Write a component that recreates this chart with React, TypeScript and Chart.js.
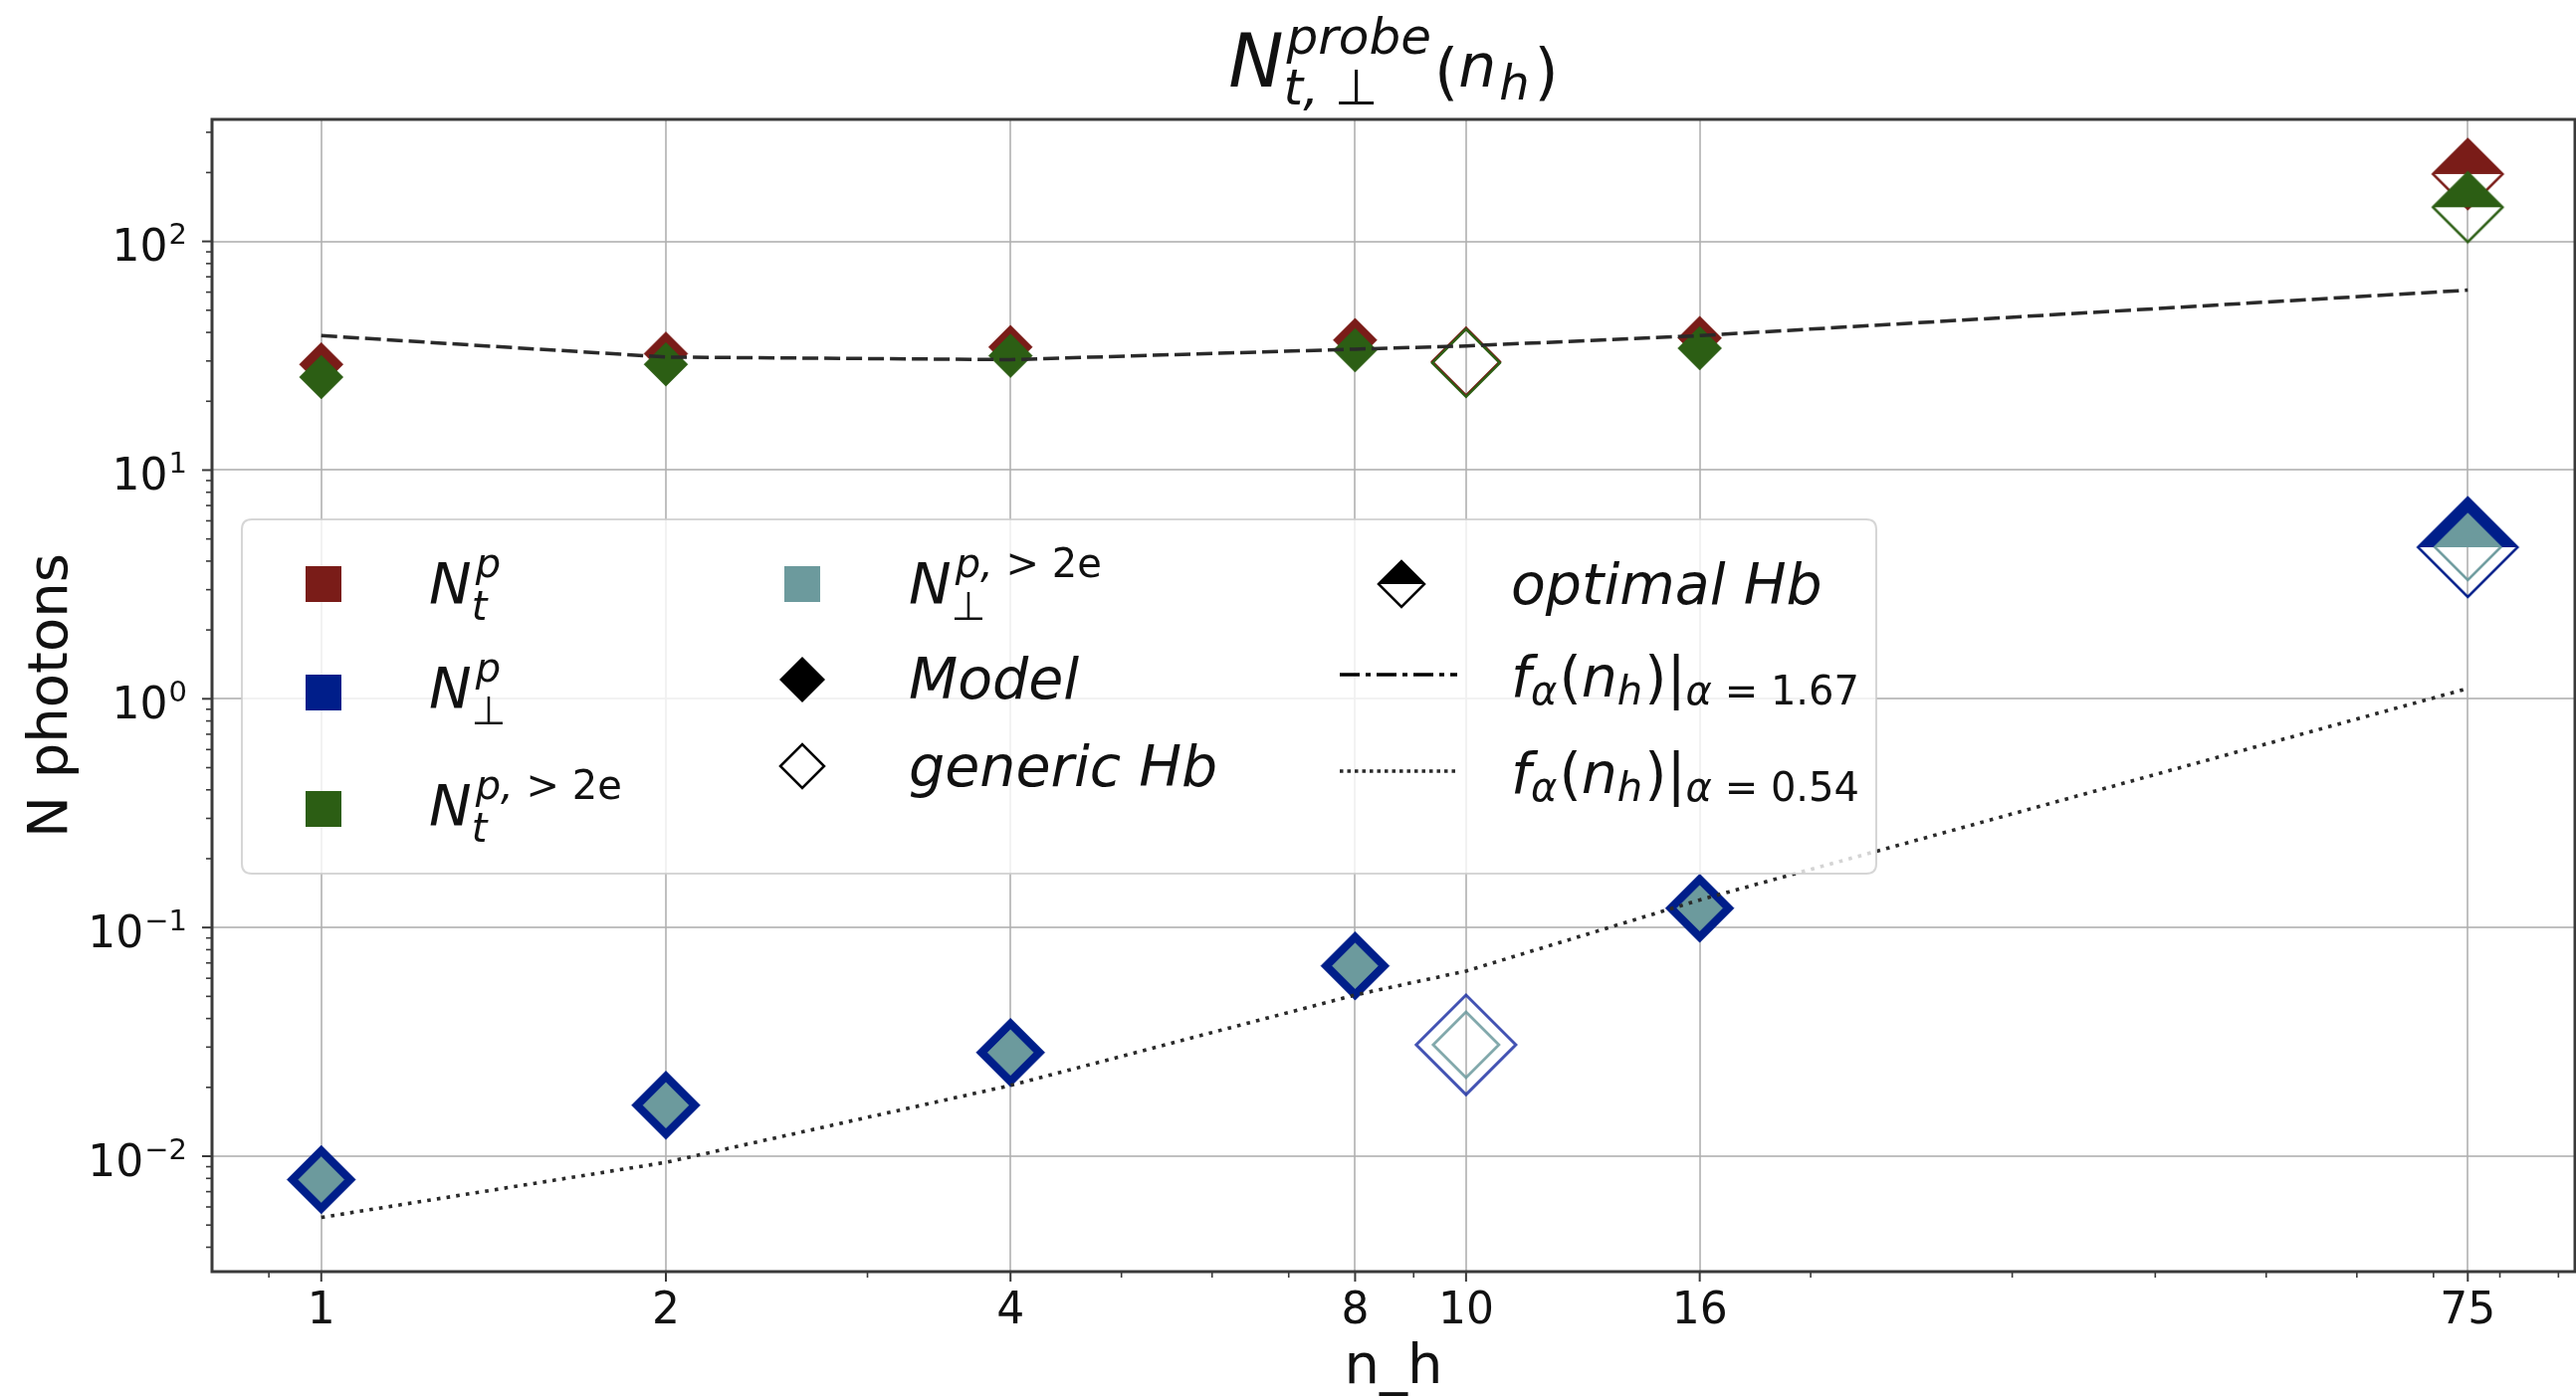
import React, { useEffect, useRef } from 'react';
import { Chart, registerables } from 'chart.js';

Chart.register(...registerables);

const W = 2588;
const H = 1404;
const FONT = "'DejaVu Sans'";

// ---------- data ----------
const modelX = [1, 2, 4, 8, 16];
const modelNt = [29.0, 32.3, 34.5, 37.0, 37.8];
const modelNt2e = [25.5, 29.0, 31.6, 33.4, 34.1];
const modelNperp = [0.0079, 0.0167, 0.0284, 0.068, 0.1215];
const modelNperp2e = [0.0079, 0.0167, 0.0284, 0.068, 0.1215];

const genericX = [10];
const genericNt = [29.8];
const genericNt2e = [29.4];
const genericNperp = [0.0307];
const genericNperp2e = [0.0307];

const optimalX = [75];
const optimalNt = [197];
const optimalNt2e = [141];
const optimalNperp = [4.6];
const optimalNperp2e = [4.6];

const fitX = [1, 2, 4, 8, 10, 16, 75];
const fitAlpha167 = [38.7, 31.2, 30.4, 33.8, 34.9, 38.7, 61.2];
const fitAlpha054 = [0.0054, 0.0094, 0.0204, 0.0507, 0.0645, 0.132, 1.11];

const xTicks = [1, 2, 4, 8, 10, 16, 75];
const xTickLabels = ['1', '2', '4', '8', '10', '16', '75'];
const xMinorTicks = [0.9, 3, 5, 6, 7, 9, 20, 30, 40, 50, 60, 70, 80, 90];
const yTickExponents = [-2, -1, 0, 1, 2];
const yMinorMantissas = [2, 3, 4, 5, 6, 7, 8, 9];

const X_MIN = 0.8027;
const X_MAX = 93.05;
const Y_MIN = 0.003129;
const Y_MAX = 341.5;

// ---------- colours ----------
const RED = '#7a1c18';
const BLUE = '#001e8a';
const GREEN = '#2c5e14';
const TEAL = '#6c9a9d';
const BLUE_EDGE = 'rgba(20,40,160,0.8)';
const TEAL_EDGE = 'rgba(108,154,157,0.85)';
const LINE = '#2a2a2a';
const GRID = 'rgba(176,176,176,0.8)';
const SPINE = '#3a3a3a';
const TXT = '#111111';

// ---------- rich text helpers ----------
type Run = { t: string; s: number; i?: boolean; dy?: number; dx?: number };
type Item = Run | { stack: Run[][] };

const fontOf = (r: Run) => `${r.i ? 'italic ' : ''}${r.s}px ${FONT}`;

function measureItems(ctx: CanvasRenderingContext2D, items: Item[]): number {
  let w = 0;
  for (const it of items) {
    if ('stack' in it) {
      w += Math.max(...it.stack.map((rs) => measureItems(ctx, rs)));
    } else {
      ctx.font = fontOf(it);
      w += (it.dx || 0) + ctx.measureText(it.t).width;
    }
  }
  return w;
}

function drawItems(ctx: CanvasRenderingContext2D, items: Item[], x: number, y: number): number {
  for (const it of items) {
    if ('stack' in it) {
      let mw = 0;
      for (const rs of it.stack) {
        const end = drawItems(ctx, rs, x, y);
        mw = Math.max(mw, end - x);
      }
      x += mw;
    } else {
      x += it.dx || 0;
      ctx.font = fontOf(it);
      ctx.fillText(it.t, x, y + (it.dy || 0));
      x += ctx.measureText(it.t).width;
    }
  }
  return x;
}

// ---------- marker helpers ----------
function diamondPath(g: CanvasRenderingContext2D, cx: number, cy: number, r: number) {
  g.beginPath();
  g.moveTo(cx - r, cy);
  g.lineTo(cx, cy - r);
  g.lineTo(cx + r, cy);
  g.lineTo(cx, cy + r);
  g.closePath();
}

function halfDiamond(g: CanvasRenderingContext2D, cx: number, cy: number, r: number, color: string, lw: number) {
  g.beginPath();
  g.moveTo(cx - r, cy);
  g.lineTo(cx, cy - r);
  g.lineTo(cx + r, cy);
  g.closePath();
  g.fillStyle = color;
  g.fill();
  diamondPath(g, cx, cy, r);
  g.strokeStyle = color;
  g.lineWidth = lw;
  g.lineJoin = 'miter';
  g.stroke();
}

function halfDiamondCanvas(r: number, color: string, lw: number): HTMLCanvasElement {
  const c = document.createElement('canvas');
  const size = 2 * Math.ceil(r + lw + 2);
  c.width = size;
  c.height = size;
  const g = c.getContext('2d')!;
  halfDiamond(g, size / 2, size / 2, r, color, lw);
  return c;
}

const pts = (xs: number[], ys: number[]) => xs.map((x, i) => ({ x, y: ys[i] }));

// ---------- decoration plugin ----------
const decorPlugin = {
  id: 'decor',
  afterDraw(chart: any) {
    const ctx: CanvasRenderingContext2D = chart.ctx;
    const { left, right, top, bottom } = chart.chartArea;
    const xs = chart.scales.x;
    const ys = chart.scales.y;
    ctx.save();

    // frame
    ctx.strokeStyle = SPINE;
    ctx.lineWidth = 3;
    ctx.strokeRect(left, top, right - left, bottom - top);

    // x ticks
    ctx.lineWidth = 2;
    xTicks.forEach((v) => {
      const px = xs.getPixelForValue(v);
      ctx.beginPath();
      ctx.moveTo(px, bottom);
      ctx.lineTo(px, bottom + 10);
      ctx.stroke();
    });
    ctx.lineWidth = 1.6;
    xMinorTicks.forEach((v) => {
      const px = xs.getPixelForValue(v);
      ctx.beginPath();
      ctx.moveTo(px, bottom);
      ctx.lineTo(px, bottom + 6);
      ctx.stroke();
    });
    // y ticks
    ctx.lineWidth = 2;
    yTickExponents.forEach((e) => {
      const py = ys.getPixelForValue(Math.pow(10, e));
      ctx.beginPath();
      ctx.moveTo(left - 10, py);
      ctx.lineTo(left, py);
      ctx.stroke();
    });
    ctx.lineWidth = 1.6;
    for (let e = -3; e <= 2; e++) {
      yMinorMantissas.forEach((m) => {
        const v = m * Math.pow(10, e);
        if (v < Y_MIN || v > Y_MAX) return;
        const py = ys.getPixelForValue(v);
        ctx.beginPath();
        ctx.moveTo(left - 6, py);
        ctx.lineTo(left, py);
        ctx.stroke();
      });
    }

    // tick labels
    ctx.fillStyle = TXT;
    ctx.textBaseline = 'alphabetic';
    ctx.textAlign = 'center';
    ctx.font = `44px ${FONT}`;
    xTicks.forEach((v, i) => {
      ctx.fillText(xTickLabels[i], xs.getPixelForValue(v), bottom + 52);
    });
    ctx.textAlign = 'left';
    yTickExponents.forEach((e) => {
      const py = ys.getPixelForValue(Math.pow(10, e));
      const items: Item[] = [
        { t: '10', s: 44 },
        { t: e < 0 ? '\u2212' + Math.abs(e) : String(e), s: 29, dy: -17, dx: 1 },
      ];
      const w = measureItems(ctx, items);
      drawItems(ctx, items, 188 - w, py + 19.5);
    });

    // axis labels
    ctx.font = `56px ${FONT}`;
    ctx.textAlign = 'center';
    ctx.fillText('n_h', (left + right) / 2, 1390);
    ctx.save();
    ctx.translate(67, (top + bottom) / 2);
    ctx.rotate(-Math.PI / 2);
    ctx.fillText('N photons', 0, 0);
    ctx.restore();
    ctx.textAlign = 'left';

    // title
    const title: Item[] = [
      { t: 'N', s: 74, i: true },
      {
        stack: [
          [{ t: 'probe', s: 50, i: true, dy: -33, dx: 3 }],
          [
            { t: 't, ', s: 50, i: true, dy: 18 },
            { t: '\u22A5', s: 50, dy: 18 },
          ],
        ],
      },
      { t: '(', s: 62, dy: 6, dx: 3 },
      { t: 'n', s: 60, i: true },
      { t: 'h', s: 48, i: true, dy: 13, dx: 3 },
      { t: ')', s: 62, dy: 6, dx: 5 },
    ];
    const tw = measureItems(ctx, title);
    drawItems(ctx, title, (left + right) / 2 - tw / 2, 87);

    // legend box
    const lx = 243, ly = 522, lw = 1885 - 243, lh = 878 - 522, rr = 10;
    ctx.beginPath();
    ctx.moveTo(lx + rr, ly);
    ctx.lineTo(lx + lw - rr, ly);
    ctx.quadraticCurveTo(lx + lw, ly, lx + lw, ly + rr);
    ctx.lineTo(lx + lw, ly + lh - rr);
    ctx.quadraticCurveTo(lx + lw, ly + lh, lx + lw - rr, ly + lh);
    ctx.lineTo(lx + rr, ly + lh);
    ctx.quadraticCurveTo(lx, ly + lh, lx, ly + lh - rr);
    ctx.lineTo(lx, ly + rr);
    ctx.quadraticCurveTo(lx, ly, lx + rr, ly);
    ctx.closePath();
    ctx.fillStyle = 'rgba(255,255,255,0.8)';
    ctx.fill();
    ctx.strokeStyle = 'rgba(204,204,204,0.8)';
    ctx.lineWidth = 2;
    ctx.stroke();

    // legend markers
    const sq = (cx: number, cy: number, c: string) => {
      ctx.fillStyle = c;
      ctx.fillRect(cx - 18, cy - 18, 36, 36);
    };
    sq(325, 587, RED);
    sq(325, 696, BLUE);
    sq(325, 813, GREEN);
    sq(806, 587, TEAL);
    diamondPath(ctx, 806, 683, 23);
    ctx.fillStyle = '#000';
    ctx.fill();
    diamondPath(ctx, 806, 770, 22);
    ctx.fillStyle = '#fff';
    ctx.fill();
    ctx.strokeStyle = '#000';
    ctx.lineWidth = 2.5;
    ctx.stroke();
    ctx.fillStyle = '#fff';
    diamondPath(ctx, 1408, 587, 23);
    ctx.fill();
    halfDiamond(ctx, 1408, 587, 23, '#000', 2.5);

    ctx.strokeStyle = '#000';
    ctx.lineWidth = 3.5;
    ctx.setLineDash([20, 6, 5, 6]);
    ctx.beginPath();
    ctx.moveTo(1346, 678);
    ctx.lineTo(1464, 678);
    ctx.stroke();
    ctx.strokeStyle = LINE;
    ctx.lineWidth = 3.5;
    ctx.setLineDash([3.5, 4]);
    ctx.beginPath();
    ctx.moveTo(1346, 775);
    ctx.lineTo(1464, 775);
    ctx.stroke();
    ctx.setLineDash([]);

    // legend texts
    ctx.fillStyle = TXT;
    const F = 57, S = 40, UP = -27, DN = 16;
    const nItems = (sup: Run[], sub: Run[]): Item[] => [
      { t: 'N', s: F, i: true },
      { stack: [sup, sub] },
    ];
    const supP: Run[] = [{ t: 'p', s: S, i: true, dy: UP, dx: 4 }];
    const supP2e: Run[] = [
      { t: 'p, ', s: S, i: true, dy: UP, dx: 4 },
      { t: '> 2', s: S, dy: UP },
      { t: 'e', s: S, dy: UP },
    ];
    const subT: Run[] = [{ t: 't', s: S, i: true, dy: DN }];
    const subPerp: Run[] = [{ t: '\u22A5', s: S, dy: DN }];
    drawItems(ctx, nItems(supP, subT), 431, 607);
    drawItems(ctx, nItems(supP, subPerp), 431, 712);
    drawItems(ctx, nItems(supP2e, subT), 431, 830);
    drawItems(ctx, nItems(supP2e, subPerp), 913, 607);
    drawItems(ctx, [{ t: 'Model', s: F, i: true }], 913, 702);
    drawItems(ctx, [{ t: 'generic Hb', s: F, i: true }], 913, 790);
    drawItems(ctx, [{ t: 'optimal Hb', s: F, i: true }], 1518, 607);
    const fItems = (a: string): Item[] => [
      { t: 'f', s: F, i: true },
      { t: '\u03B1', s: S, i: true, dy: 8 },
      { t: '(', s: F, dx: 2 },
      { t: 'n', s: F, i: true },
      { t: 'h', s: S, i: true, dy: 8 },
      { t: ')', s: F, dx: 2 },
      { t: '|', s: F },
      { t: '\u03B1', s: S, i: true, dy: 8 },
      { t: ' = ' + a, s: S, dy: 8 },
    ];
    drawItems(ctx, fItems('1.67'), 1518, 700);
    drawItems(ctx, fItems('0.54'), 1518, 797);

    ctx.restore();
  },
};

export default function App() {
  const ref = useRef<HTMLCanvasElement | null>(null);

  useEffect(() => {
    if (!ref.current) return;
    const optRed = halfDiamondCanvas(35, RED, 2.5);
    const optGreen = halfDiamondCanvas(35, GREEN, 2.5);
    const optBlue = halfDiamondCanvas(50, BLUE, 2.5);
    const optTeal = halfDiamondCanvas(33, TEAL, 2.5);

    const marker = (color: string, r: number, order: number, label: string, xs: number[], ys: number[]) => ({
      label,
      data: pts(xs, ys),
      showLine: false,
      pointStyle: 'rectRot',
      pointRadius: r,
      pointBackgroundColor: color,
      pointBorderColor: color,
      pointBorderWidth: 0.5,
      order,
    });
    const hollow = (color: string, r: number, lw: number, order: number, label: string, xs: number[], ys: number[]) => ({
      label,
      data: pts(xs, ys),
      showLine: false,
      pointStyle: 'rectRot',
      pointRadius: r,
      pointBackgroundColor: 'rgba(0,0,0,0)',
      pointBorderColor: color,
      pointBorderWidth: lw,
      order,
    });
    const half = (img: HTMLCanvasElement, r: number, order: number, label: string, xs: number[], ys: number[]) => ({
      label,
      data: pts(xs, ys),
      showLine: false,
      pointStyle: img,
      pointRadius: r,
      order,
    });

    const chart = new Chart(ref.current, {
      type: 'scatter',
      data: {
        datasets: [
          {
            label: 'f 1.67',
            data: pts(fitX, fitAlpha167),
            showLine: true,
            borderColor: LINE,
            borderWidth: 3.5,
            borderDash: [16, 6],
            pointRadius: 0,
            tension: 0,
            order: 0,
          },
          {
            label: 'f 0.54',
            data: pts(fitX, fitAlpha054),
            showLine: true,
            borderColor: LINE,
            borderWidth: 3.6,
            borderDash: [3.6, 6.2],
            pointRadius: 0,
            tension: 0,
            order: 1,
          },
          half(optTeal, 33, 2, 'opt Nperp2e', optimalX, optimalNperp2e),
          half(optBlue, 50, 3, 'opt Nperp', optimalX, optimalNperp),
          half(optGreen, 35, 4, 'opt Nt2e', optimalX, optimalNt2e),
          half(optRed, 35, 5, 'opt Nt', optimalX, optimalNt),
          hollow(TEAL_EDGE, 33, 2.8, 6, 'gen Nperp2e', genericX, genericNperp2e),
          hollow(BLUE_EDGE, 50, 3, 7, 'gen Nperp', genericX, genericNperp),
          hollow(GREEN, 34, 2.5, 8, 'gen Nt2e', genericX, genericNt2e),
          hollow(RED, 34, 2.5, 9, 'gen Nt', genericX, genericNt),
          marker(TEAL, 23, 10, 'Nperp2e', modelX, modelNperp2e),
          marker(BLUE, 34.5, 11, 'Nperp', modelX, modelNperp),
          marker(GREEN, 22, 12, 'Nt2e', modelX, modelNt2e),
          marker(RED, 22, 13, 'Nt', modelX, modelNt),
        ] as any,
      },
      options: {
        animation: false,
        responsive: false,
        maintainAspectRatio: false,
        devicePixelRatio: 1,
        events: [],
        layout: { autoPadding: false, padding: { left: 213, top: 120, right: 1, bottom: 126 } },
        plugins: { legend: { display: false }, tooltip: { enabled: false }, title: { display: false } },
        scales: {
          x: {
            type: 'logarithmic',
            bounds: 'data',
            min: X_MIN,
            max: X_MAX,
            afterBuildTicks: (s: any) => {
              s.ticks = xTicks.map((v) => ({ value: v }));
            },
            ticks: { display: false },
            grid: { color: GRID, lineWidth: 2, drawTicks: false },
            border: { display: false },
            title: { display: false },
          },
          y: {
            type: 'logarithmic',
            bounds: 'data',
            min: Y_MIN,
            max: Y_MAX,
            afterBuildTicks: (s: any) => {
              s.ticks = yTickExponents.map((e) => ({ value: Math.pow(10, e) }));
            },
            ticks: { display: false },
            grid: { color: GRID, lineWidth: 2, drawTicks: false },
            border: { display: false },
            title: { display: false },
          },
        } as any,
      },
      plugins: [decorPlugin],
    });
    return () => chart.destroy();
  }, []);

  return (
    <div style={{ position: 'fixed', left: 0, top: 0, width: W, height: H, background: '#fff' }}>
      <canvas ref={ref} width={W} height={H} style={{ width: W, height: H, display: 'block' }} />
    </div>
  );
}
